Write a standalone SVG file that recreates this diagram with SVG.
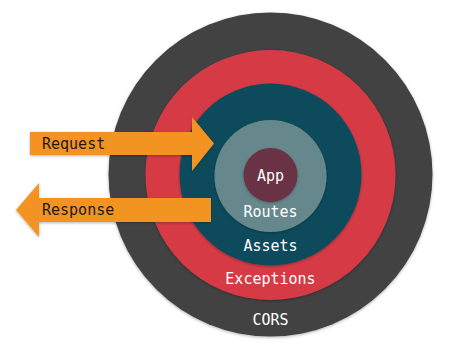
<svg xmlns="http://www.w3.org/2000/svg" width="450" height="348" viewBox="0 0 450 348">
<defs>
<filter id="sh" x="-20%" y="-20%" width="140%" height="140%">
<feDropShadow dx="0" dy="1" stdDeviation="1.5" flood-color="#000" flood-opacity="0.3"/>
</filter>
<style>
.lbl{font-family:"DejaVu Sans Mono","Liberation Mono",monospace;font-size:15px;text-anchor:middle;fill:#ffffff}
.alb{font-family:"DejaVu Sans Mono","Liberation Mono",monospace;font-size:15px;fill:#1a1a1a}
.arr{fill:#F39420;filter:url(#sh)}
.ring{filter:url(#sh)}
</style>
</defs>
<rect width="450" height="348" fill="#ffffff"/>
<g id="cors"><circle class="ring" cx="270.5" cy="174.5" r="162" fill="#424242"/><text class="lbl" x="270.5" y="325">CORS</text></g>
<g id="exceptions"><circle class="ring" cx="270.5" cy="175" r="125" fill="#D63A45"/><text class="lbl" x="270.5" y="284">Exceptions</text></g>
<g id="assets"><circle class="ring" cx="270.5" cy="174.5" r="91" fill="#0F4C5C"/><text class="lbl" x="270.5" y="251">Assets</text></g>
<g id="routes"><circle class="ring" cx="270.5" cy="176" r="56" fill="#66888C"/><text class="lbl" x="270.5" y="217">Routes</text></g>
<g id="app"><circle class="ring" cx="270.5" cy="175" r="27" fill="#6B3045"/><text class="lbl" x="270.5" y="181">App</text></g>
<g id="connectors">
<g id="request"><path class="arr" d="M30,132 H192 V117 L214,143.5 L192,171 V155 H30 Z"/><text class="alb" x="42" y="149">Request</text></g>
<g id="response"><path class="arr" d="M211,198 H39 V183 L16,210 L39,237 V222 H211 Z"/><text class="alb" x="42" y="215">Response</text></g>
</g>
</svg>
